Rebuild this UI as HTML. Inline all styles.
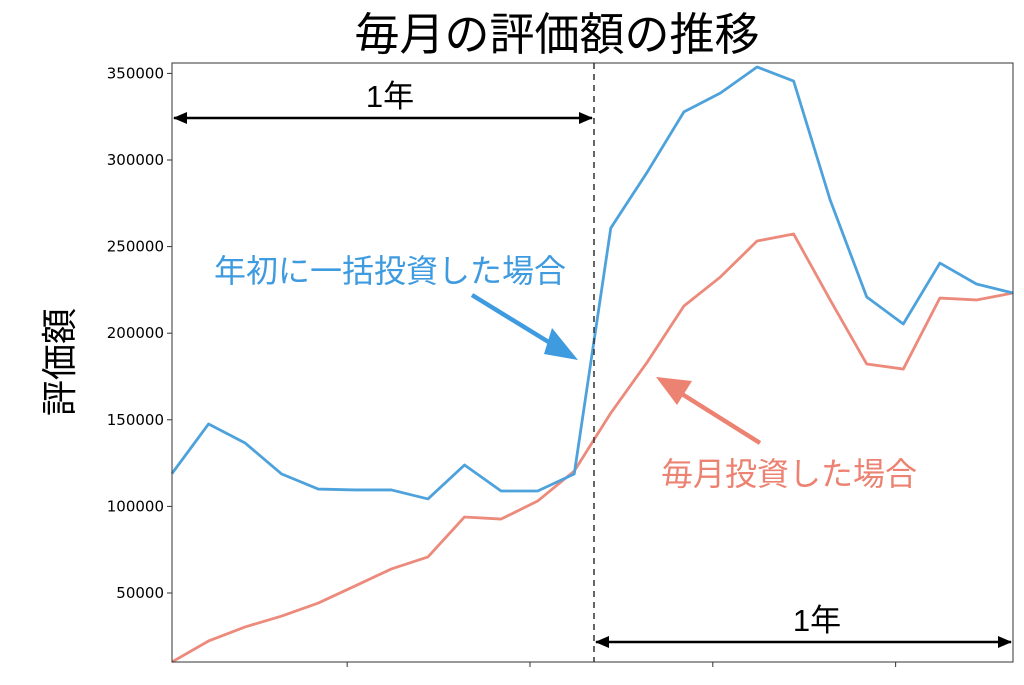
<!DOCTYPE html>
<html><head><meta charset="utf-8"><style>
body{margin:0;background:#fff;}
svg text{font-family:"Liberation Sans","Noto Sans CJK JP",sans-serif;}
</style></head><body>
<svg id="chart" width="1024" height="680" viewBox="0 0 1024 680" xmlns="http://www.w3.org/2000/svg">
<defs>
<marker id="ak" markerWidth="14" markerHeight="12" refX="13" refY="6" orient="auto-start-reverse" markerUnits="userSpaceOnUse"><path d="M0,0 L14,6 L0,12 Z" fill="#000"/></marker>
</defs>
<text x="557" y="50" font-size="45" text-anchor="middle" fill="#000">毎月の評価額の推移</text>
<text transform="translate(72,362) rotate(-90)" font-size="36" text-anchor="middle" fill="#000">評価額</text>
<g id="plot"></g>
<rect x="172" y="63" width="841" height="599" fill="none" stroke="#333" stroke-width="1"/>
<line x1="594" y1="63" x2="594" y2="662" stroke="#333" stroke-width="1.5" stroke-dasharray="6,5"/>
<line x1="174" y1="118" x2="592" y2="118" stroke="#000" stroke-width="2.5" marker-start="url(#ak)" marker-end="url(#ak)"/>
<text x="390" y="107" font-size="31" text-anchor="middle">1年</text>
<line x1="596" y1="642" x2="1011" y2="642" stroke="#000" stroke-width="2.5" marker-start="url(#ak)" marker-end="url(#ak)"/>
<text x="817" y="631" font-size="31" text-anchor="middle">1年</text>
<text x="390" y="282" font-size="32" text-anchor="middle" fill="#3f9be0">年初に一括投資した場合</text>
<line x1="472" y1="295" x2="560" y2="349" stroke="#3f9be0" stroke-width="4.5"/>
<path d="M578,360 L552,328 L544,354 Z" fill="#3f9be0"/>
<text x="789" y="485" font-size="32" text-anchor="middle" fill="#ec8372">毎月投資した場合</text>
<line x1="760" y1="443" x2="674" y2="389" stroke="#ec8372" stroke-width="4.5"/>
<path d="M656,377 L692,381 L677,405 Z" fill="#ec8372"/>
</svg>
<script>
const lumpSum=[119000,147600,136600,118700,110000,109500,109500,104300,123900,108900,108900,118700,260700,293100,327800,338700,353700,345600,276900,220900,205300,240500,228400,223200];
const monthly=[10200,22300,30400,36700,44200,54000,63900,70800,93900,92700,103100,120400,153900,183400,215700,232500,253200,257300,219200,182200,179300,220300,219200,223200];
const yTicks=[50000,100000,150000,200000,250000,300000,350000];
const xTicks=[4.79,9.79,14.79,19.79];
const NS="http://www.w3.org/2000/svg";
const x=i=>172+i*(841/23);
const y=v=>593-(v-50000)*86.6/50000;
const g=document.getElementById('plot');
function mk(t,a){const e=document.createElementNS(NS,t);for(const k in a)e.setAttribute(k,a[k]);g.appendChild(e);return e;}
yTicks.forEach(v=>{
  const l=mk('line',{x1:167,x2:172,y1:y(v),y2:y(v),stroke:'#333'});
  
  
  const t=mk('text',{x:164,y:y(v)+5,'font-size':15,'text-anchor':'end',fill:'#000',style:'font-family:"DejaVu Sans",sans-serif'});
  t.textContent=v;
  
  
});
xTicks.forEach(i=>{
  const l=mk('line',{x1:x(i),x2:x(i),y1:662,y2:667,stroke:'#333'});
  
  
});
function series(d,c,n){
  const p=mk('polyline',{points:d.map((v,i)=>x(i)+','+y(v)).join(' '),fill:'none',stroke:c,'stroke-width':2.8,'stroke-linejoin':'round'});
  
  
}
series(monthly,'#ec8a7c','monthly-investment-line');
series(lumpSum,'#4ea2dc','lump-sum-line');
</script>
</body></html>
